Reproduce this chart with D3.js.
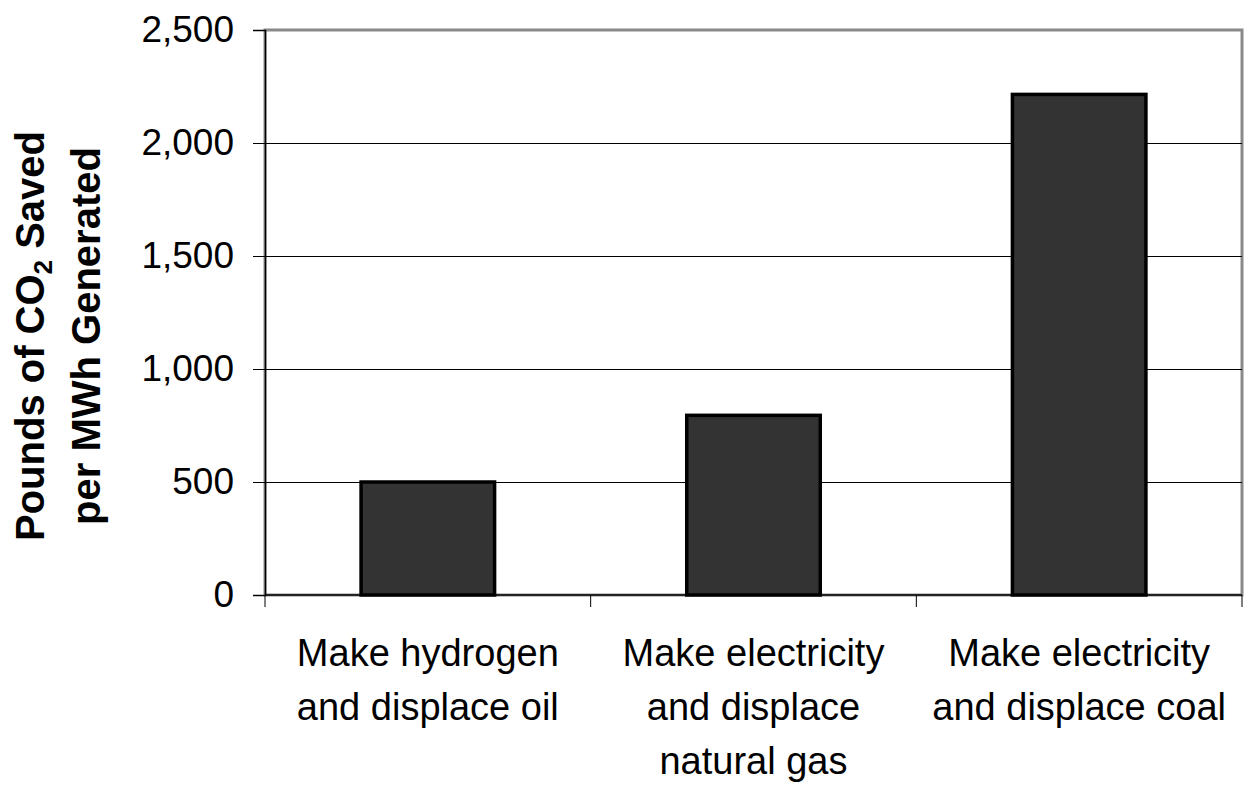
<!DOCTYPE html>
<html><head><meta charset="utf-8">
<script src="https://cdn.jsdelivr.net/npm/d3@7"></script>
<style>
html,body{margin:0;padding:0;background:#fff;}
svg{display:block;font-family:"Liberation Sans",Arial,sans-serif;}
</style></head>
<body>
<svg id="chart" width="1248" height="786"></svg>
<script>
const categories = [
  ["Make hydrogen", "and displace oil"],
  ["Make electricity", "and displace", "natural gas"],
  ["Make electricity", "and displace coal"]
];
const values = [500, 795, 2215];
const yTicks = [0, 500, 1000, 1500, 2000, 2500];

const svg = d3.select("#chart");
const m = {left: 265, right: 1242, top: 30, bottom: 595};

const x = d3.scaleBand()
  .domain(d3.range(categories.length))
  .range([m.left, m.right])
  .paddingInner(0.59).paddingOuter(0.295);
const y = d3.scaleLinear().domain([0, 2500]).range([m.bottom, m.top]);

// plot area frame (gray)
svg.append("rect")
  .attr("x", m.left).attr("y", m.top)
  .attr("width", m.right - m.left).attr("height", m.bottom - m.top)
  .attr("fill", "none").attr("stroke", "#8a8a8a").attr("stroke-width", 3);

// gridlines
svg.append("g").selectAll("line")
  .data(yTicks.filter(d => d > 0 && d < 2500))
  .join("line")
  .attr("x1", m.left).attr("x2", m.right)
  .attr("y1", d => y(d) + 0.5).attr("y2", d => y(d) + 0.5)
  .attr("stroke", "#000").attr("stroke-width", 1);

// y axis
const yAxis = svg.append("g")
  .attr("transform", `translate(${m.left},0)`)
  .call(d3.axisLeft(y).tickValues(yTicks).tickSize(12).tickPadding(19)
    .tickFormat(d3.format(",")));
yAxis.select(".domain").attr("stroke", "#000").attr("stroke-width", 1.5);
yAxis.selectAll(".tick line").attr("stroke", "#000");
yAxis.selectAll(".tick text")
  .attr("font-size", 37).attr("fill", "#000")
  .attr("font-family", "Liberation Sans, Arial, sans-serif");

// x axis ticks at category boundaries
const boundaries = d3.range(categories.length + 1).map(i => m.left + i * x.step());
svg.append("g").selectAll("line")
  .data(boundaries).join("line")
  .attr("x1", d => d).attr("x2", d => d)
  .attr("y1", m.bottom).attr("y2", m.bottom + 12)
  .attr("stroke", "#000");
svg.append("line")
  .attr("x1", m.left).attr("x2", m.right)
  .attr("y1", m.bottom).attr("y2", m.bottom)
  .attr("stroke", "#000").attr("stroke-width", 1.5);

// bars
svg.append("g").selectAll("rect")
  .data(values).join("rect")
  .attr("x", (d, i) => x(i))
  .attr("y", d => y(d))
  .attr("width", x.bandwidth())
  .attr("height", d => y(0) - y(d))
  .attr("fill", "#333333")
  .attr("stroke", "#000").attr("stroke-width", 3.5);

// x labels
const xl = svg.append("g").selectAll("text")
  .data(categories).join("text")
  .attr("text-anchor", "middle")
  .attr("font-size", 38).attr("fill", "#000")
  .attr("x", (d, i) => x(i) + x.bandwidth() / 2)
  .attr("y", 666);
xl.selectAll("tspan").data(d => d).join("tspan")
  .attr("x", function() { return d3.select(this.parentNode).attr("x"); })
  .attr("dy", (d, i) => i === 0 ? 0 : 54)
  .text(d => d);

// y title
const title = svg.append("text")
  .attr("transform", "translate(44,336) rotate(-90)")
  .attr("text-anchor", "middle")
  .attr("font-size", 40).attr("font-weight", "bold").attr("fill", "#000");
const l1 = title.append("tspan").attr("x", 0).attr("y", 0);
l1.append("tspan").text("Pounds of CO");
l1.append("tspan").attr("font-size", 26).attr("dy", 8).text("2");
l1.append("tspan").attr("dy", -8).text(" Saved");
title.append("tspan").attr("x", 0).attr("y", 56).text("per MWh Generated");
</script>
</body></html>
